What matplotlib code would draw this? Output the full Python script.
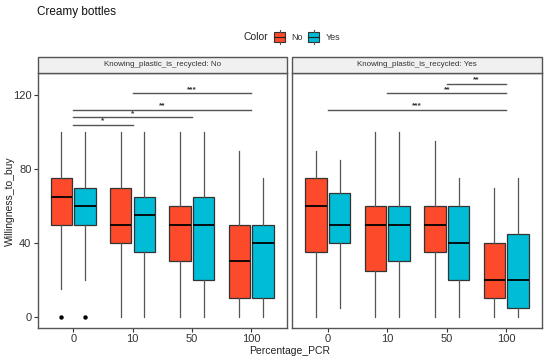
import numpy as np
import matplotlib.pyplot as plt
from matplotlib.patches import Rectangle
from matplotlib.lines import Line2D

plt.rcParams["font.family"] = ["Liberation Sans", "DejaVu Sans"]

# box stats: (whislo, q1, med, q3, whishi)
pcr = ["0", "10", "50", "100"]
panels = ["Knowing_plastic_is_recycled: No", "Knowing_plastic_is_recycled: Yes"]

no_recycled_No = [(15, 50, 65, 75, 100), (0, 40, 50, 70, 100), (0, 30, 50, 60, 100), (0, 10, 30, 50, 90)]
no_recycled_Yes = [(20, 50, 60, 70, 100), (0, 35, 55, 65, 100), (0, 20, 50, 65, 100), (0, 10, 40, 50, 75)]
yes_recycled_No = [(0, 35, 60, 75, 90), (0, 25, 50, 60, 100), (0, 35, 50, 60, 95), (0, 10, 20, 40, 70)]
yes_recycled_Yes = [(5, 40, 50, 67, 85), (0, 30, 50, 60, 100), (0, 20, 40, 60, 75), (0, 5, 20, 45, 75)]
# outliers per colour: (category index, value)
outliers_no = {"No": [(0, 0)], "Yes": [(0, 0)]}
outliers_yes = {"No": [], "Yes": []}

# significance brackets: (from cat, to cat, y, label)
sig_no = [(0, 1, 104, "*"), (0, 2, 108, "*"), (0, 3, 112, "**"), (1, 3, 121, "***")]
sig_yes = [(0, 3, 112, "***"), (1, 3, 121, "**"), (2, 3, 126, "**")]

colors = {"No": "#FC4A2A", "Yes": "#00BCD6"}

W, H = 550, 361
fig = plt.figure(figsize=(5.5, 3.61), dpi=100)
fig.patch.set_facecolor("white")

ax_pos = [[37.7 / W, 1 - 328 / H, 249 / W, 255 / H], [292 / W, 1 - 328 / H, 250 / W, 255 / H]]
data = [(no_recycled_No, no_recycled_Yes, sig_no, outliers_no),
        (yes_recycled_No, yes_recycled_Yes, sig_yes, outliers_yes)]

for k, (s_no, s_yes, sigs, outs) in enumerate(data):
    ax = fig.add_axes(ax_pos[k])
    x = np.arange(len(pcr))
    for grp, stats, off in [("No", s_no, -0.2), ("Yes", s_yes, 0.2)]:
        bxp = []
        for i, (lo, q1, med, q3, hi) in enumerate(stats):
            fl = [v for (c, v) in outs[grp] if c == i]
            bxp.append(dict(whislo=lo, q1=q1, med=med, q3=q3, whishi=hi, fliers=fl))
        ax.bxp(bxp, positions=x + off, widths=0.36, patch_artist=True,
               showcaps=False,
               boxprops=dict(facecolor=colors[grp], edgecolor="#333333", linewidth=0.9),
               medianprops=dict(color="black", linewidth=1.3),
               whiskerprops=dict(color="#555555", linewidth=0.9),
               flierprops=dict(marker="o", markersize=2.2, markerfacecolor="black",
                               markeredgecolor="black"),
               manage_ticks=False, zorder=3)
    for a, b, y, lab in sigs:
        ax.plot([a, b], [y, y], color="#555555", linewidth=1.0)
        ax.text((a + b) / 2, y + 0.2, lab, ha="center", va="bottom", fontsize=6,
                fontweight="bold", color="#333333")
    ax.set_xlim(-0.6, 3.6)
    ax.set_ylim(-6, 132)
    ax.set_xticks(x)
    ax.set_xticklabels(pcr, fontsize=8, color="#333333")
    ax.set_yticks([0, 40, 80, 120])
    if k == 0:
        ax.set_yticklabels(["0", "40", "80", "120"], fontsize=8, color="#333333")
    else:
        ax.tick_params(axis="y", left=False, labelleft=False)
    ax.tick_params(axis="both", length=3, width=0.8, color="#333333", pad=1.5)
    for sp in ax.spines.values():
        sp.set_color("#555555")
        sp.set_linewidth(1.0)
    # facet strip
    p = ax_pos[k]
    fig.patches.append(Rectangle((p[0], p[1] + p[3]), p[2], 16 / H, transform=fig.transFigure,
                                 facecolor="#F0F0F0", edgecolor="#555555", linewidth=1.0))
    fig.text(p[0] + p[2] / 2, p[1] + p[3] + 8 / H, panels[k], ha="center", va="center",
             fontsize=5.8, color="#333333")

fig.text(10 / W, 1 - 201 / H, "Willingness_to_buy", rotation=90, ha="center", va="center",
         fontsize=7.5, color="#222222")
fig.text(290 / W, 1 - 351.5 / H, "Percentage_PCR", ha="center", va="center", fontsize=7.5,
         color="#222222")
fig.text(37 / W, 1 - 12.5 / H, "Creamy bottles", ha="left", va="center", fontsize=8.5,
         color="#111111")

# legend drawn by hand: "Color" title then keys in one row
ly = 1 - 37 / H
fig.text(243 / W, ly, "Color", ha="left", va="center", fontsize=7.5, color="#222222")
for grp, kx, tx in [("No", 274, 291), ("Yes", 308, 326)]:
    fig.patches.append(Rectangle((kx / W, ly - 5 / H), 11 / W, 10 / H, transform=fig.transFigure,
                                 facecolor=colors[grp], edgecolor="#333333", linewidth=0.8))
    fig.lines.append(Line2D([kx / W, (kx + 11) / W], [ly, ly], transform=fig.transFigure,
                            color="#222222", linewidth=0.8))
    fig.lines.append(Line2D([(kx + 5.5) / W] * 2, [ly + 5 / H, ly + 7 / H], transform=fig.transFigure,
                            color="#555555", linewidth=0.8))
    fig.lines.append(Line2D([(kx + 5.5) / W] * 2, [ly - 5 / H, ly - 7 / H], transform=fig.transFigure,
                            color="#555555", linewidth=0.8))
    fig.text(tx / W, ly, grp, ha="left", va="center", fontsize=6.5, color="#333333")

fig.savefig("out.png", dpi=100)
